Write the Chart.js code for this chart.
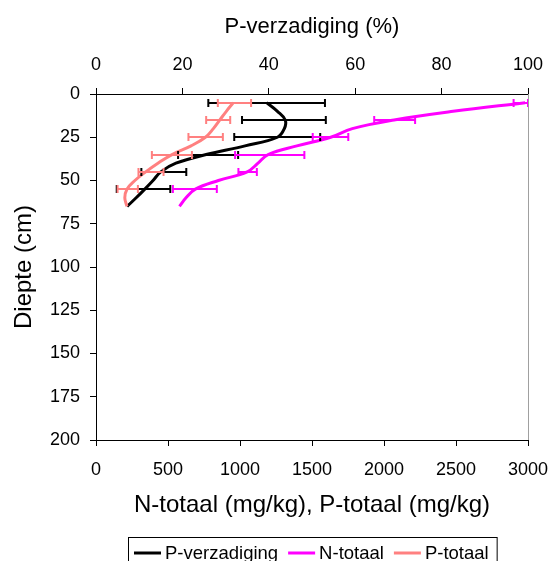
<!DOCTYPE html>
<html lang="nl">
<head>
<meta charset="UTF-8">
<title>Diepteprofiel</title>
<script src="https://cdn.jsdelivr.net/npm/chart.js@4"></script>
<style>
  * { margin: 0; padding: 0; box-sizing: border-box; }
  body { background: #fff; width: 550px; height: 561px; overflow: hidden; }
</style>
</head>
<body>
<canvas id="profiel" width="550" height="561"></canvas>
<script>
// diepte (cm) van de lijnpunten
const depth = [5, 10, 15, 20, 25, 30, 35, 40, 45, 50, 55, 60, 65];
const pVerzadiging = [39.5, 42.0, 43.8, 43.6, 42.0, 34.5, 25.5, 18.5, 15.0, 13.2, 11.3, 9.3, 7.2];
const nTotaal = [2980, 2480, 2070, 1780, 1630, 1395, 1195, 1125, 1050, 850, 690, 625, 580];
const pTotaal = [954, 905, 860, 815, 760, 660, 528, 430, 345, 270, 215, 200, 215];

// foutbalken (min / max) per diepte
const errDepth = [5, 15, 25, 35, 45, 55];
const pVerzMin = [26.0, 33.8, 32.0, 19.0, 10.5, 4.8];
const pVerzMax = [53.0, 53.2, 51.9, 32.9, 20.9, 17.2];
const nTotMin = [2900, 1932, 1505, 966, 989, 534];
const nTotMax = [3000, 2216, 1752, 1447, 1117, 839];
const pTotMin = [846, 765, 642, 388, 295, 150];
const pTotMax = [1077, 932, 881, 666, 469, 291];

const seriesNames = ["P-verzadiging", "N-totaal", "P-totaal"];
const seriesColors = ["#000000", "#FF00FF", "#FF8080"];

const FONT = "'Liberation Sans', Arial, sans-serif";
Chart.defaults.font.family = FONT;
Chart.defaults.color = "#000";

function points(values) {
    return depth.map((d, i) => ({ x: values[i], y: d }));
}

const errorBars = {
    id: "errorBars",
    afterDatasetsDraw(chart) {
        const ctx = chart.ctx;
        const yScale = chart.scales.y;
        ctx.save();
        chart.data.datasets.forEach((ds) => {
            const xScale = chart.scales[ds.xAxisID];
            ctx.strokeStyle = ds.borderColor;
            ctx.lineWidth = 2;
            errDepth.forEach((d, i) => {
                const y = Math.round(yScale.getPixelForValue(d));
                const x1 = xScale.getPixelForValue(ds.errMin[i]);
                const x2 = xScale.getPixelForValue(ds.errMax[i]);
                ctx.beginPath();
                ctx.moveTo(x1, y);
                ctx.lineTo(x2, y);
                ctx.moveTo(x1, y - 4);
                ctx.lineTo(x1, y + 4);
                ctx.moveTo(x2, y - 4);
                ctx.lineTo(x2, y + 4);
                ctx.stroke();
            });
        });
        ctx.restore();
    },
};

const frameAndLegend = {
    id: "frameAndLegend",
    afterDraw(chart) {
        const ctx = chart.ctx;
        const area = chart.chartArea;
        ctx.save();
        // rechterrand van het plotvlak
        ctx.strokeStyle = "#a0a0a0";
        ctx.lineWidth = 1;
        ctx.beginPath();
        ctx.moveTo(area.right + 0.5, area.top);
        ctx.lineTo(area.right + 0.5, area.bottom);
        ctx.stroke();

        // legenda met kader onderaan
        ctx.font = "18.5px " + FONT;
        const lineLen = 27, gap = 4, itemGap = 10, padL = 6, padR = 8;
        let total = padL + padR;
        seriesNames.forEach((n, i) => {
            total += lineLen + gap + ctx.measureText(n).width;
            if (i < seriesNames.length - 1) total += itemGap;
        });
        const cx = (area.left + area.right) / 2;
        const left = Math.round(cx - total / 2);
        const top = 537;
        const midY = 553;
        ctx.strokeStyle = "#000";
        ctx.strokeRect(left + 0.5, top + 0.5, total, 40);
        let x = left + padL;
        ctx.textBaseline = "middle";
        ctx.fillStyle = "#000";
        seriesNames.forEach((n, i) => {
            ctx.strokeStyle = seriesColors[i];
            ctx.lineWidth = 3;
            ctx.beginPath();
            ctx.moveTo(x, midY);
            ctx.lineTo(x + lineLen, midY);
            ctx.stroke();
            x += lineLen + gap;
            ctx.fillText(n, x, midY + 1);
            x += ctx.measureText(n).width + itemGap;
        });
        ctx.restore();
    },
};

const axisLine = { color: "#000", width: 1 };
const gridOpts = { drawOnChartArea: false, tickLength: 6, color: "#000" };
const tickFont = { size: 18 };
const plain = (v) => String(v);

// vaste maten voor de assen, zonder extra randruimte voor de labels
function fixHeight(h) {
    return (s) => {
        s.height = h;
        s.paddingLeft = 0;
        s.paddingRight = 0;
    };
}

new Chart(document.getElementById("profiel"), {
    type: "scatter",
    data: {
        datasets: [
            {
                label: seriesNames[0],
                data: points(pVerzadiging),
                xAxisID: "xTop",
                borderColor: seriesColors[0],
                errMin: pVerzMin,
                errMax: pVerzMax,
                order: 3,
            },
            {
                label: seriesNames[1],
                data: points(nTotaal),
                xAxisID: "x",
                borderColor: seriesColors[1],
                errMin: nTotMin,
                errMax: nTotMax,
                order: 2,
            },
            {
                label: seriesNames[2],
                data: points(pTotaal),
                xAxisID: "x",
                borderColor: seriesColors[2],
                errMin: pTotMin,
                errMax: pTotMax,
                order: 1,
            },
        ],
    },
    options: {
        responsive: false,
        animation: false,
        datasets: {
            scatter: {
                showLine: true,
                pointRadius: 0,
                borderWidth: 3,
                tension: 0.4,
            },
        },
        layout: { padding: { left: 0, top: 0, right: 22, bottom: 36 } },
        plugins: {
            legend: { display: false },
            tooltip: { enabled: false },
        },
        scales: {
            x: {
                type: "linear",
                position: "bottom",
                min: 0,
                max: 3000,
                ticks: { stepSize: 500, font: tickFont, padding: 13, maxRotation: 0, callback: plain },
                grid: gridOpts,
                border: axisLine,
                title: {
                    display: true,
                    text: "N-totaal (mg/kg), P-totaal (mg/kg)",
                    font: { size: 24 },
                    padding: { top: 0, bottom: 5 },
                },
                afterFit: fixHeight(85),
            },
            xTop: {
                type: "linear",
                position: "top",
                min: 0,
                max: 100,
                ticks: { stepSize: 20, font: tickFont, padding: 12, maxRotation: 0, callback: plain },
                grid: gridOpts,
                border: axisLine,
                title: {
                    display: true,
                    text: "P-verzadiging (%)",
                    font: { size: 22 },
                    padding: { top: 14, bottom: 0 },
                },
                afterFit: fixHeight(94),
            },
            y: {
                type: "linear",
                position: "left",
                reverse: true,
                min: 0,
                max: 200,
                ticks: { stepSize: 25, font: tickFont, padding: 10, callback: plain },
                grid: gridOpts,
                border: axisLine,
                title: {
                    display: true,
                    text: "Diepte (cm)",
                    font: { size: 24 },
                    padding: { top: 10, bottom: 0 },
                },
                afterFit(s) {
                    s.width = 96;
                    s.paddingTop = 0;
                    s.paddingBottom = 0;
                },
            },
        },
    },
    plugins: [errorBars, frameAndLegend],
});
</script>
</body>
</html>
